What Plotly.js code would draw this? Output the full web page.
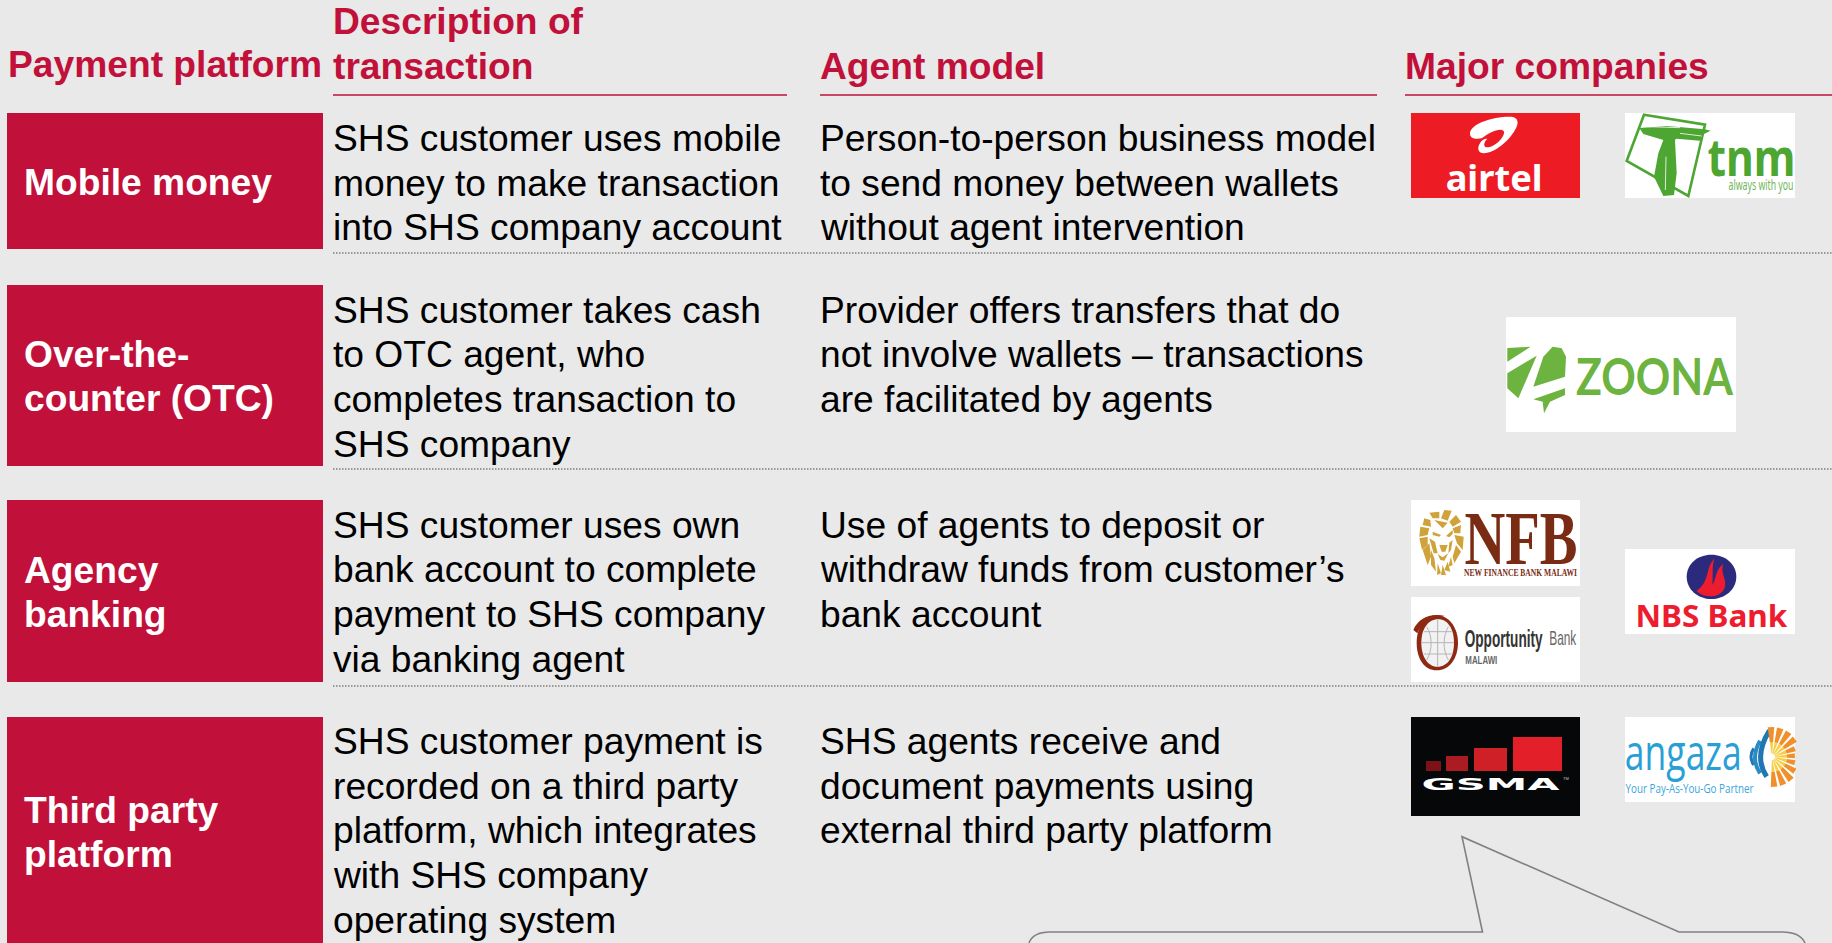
<!DOCTYPE html>
<html><head><meta charset="utf-8">
<script src="https://cdn.plot.ly/plotly-3.0.1.min.js"></script>
<style>html,body{margin:0;padding:0;background:#e9e9e9;overflow:hidden}</style>
</head><body><div id="chart" style="width:1832px;height:943px"></div>
<script>
// ---- content ----
const headers = ["Payment platform", "Description of", "transaction", "Agent model", "Major companies"];
const platforms = [["Mobile money"], ["Over-the-", "counter (OTC)"], ["Agency", "banking"], ["Third party", "platform"]];
const descriptions = [
  ["SHS customer uses mobile", "money to make transaction", "into SHS company account"],
  ["SHS customer takes cash", "to OTC agent, who", "completes transaction to", "SHS company"],
  ["SHS customer uses own", "bank account to complete", "payment to SHS company", "via banking agent"],
  ["SHS customer payment is", "recorded on a third party", "platform, which integrates", "with SHS company", "operating system"]
];
const agentModels = [
  ["Person-to-person business model", "to send money between wallets", "without agent intervention"],
  ["Provider offers transfers that do", "not involve wallets \u2013 transactions", "are facilitated by agents"],
  ["Use of agents to deposit or", "withdraw funds from customer\u2019s", "bank account"],
  ["SHS agents receive and", "document payments using", "external third party platform"]
];
// ---- layout ----
const RED = "#C1113A", BG = "#E9E9E9", BODY = "Liberation Sans, Arial, sans-serif", FS = 37.2;
const rowBoxes = [[113, 249], [285, 466], [500, 682], [717, 943]];
const rowFirstLine = [138, 309.5, 524.5, 741];
const labelFirstLine = [182, 354, 570, 810];
const LH = 44.7;
const shapes = [], annotations = [], fit = {};
const rect = (x0, y0, x1, y1, c) => shapes.push({type:"rect", xref:"x", yref:"y", x0, y0, x1, y1, fillcolor:c, line:{width:0}, layer:"below"});
const line = (x0, y0, x1, y1, c, w, dash) => shapes.push({type:"line", xref:"x", yref:"y", x0, y0, x1, y1, line:{color:c, width:w, dash:dash||"solid"}, layer:"below"});
const txt = (x, y, t, size, color, opt) => {
  opt = opt || {};
  if (opt.w) fit[t] = opt.w;
  annotations.push({xref:"x", yref:"y", x, y, text:t, showarrow:false, xanchor:opt.a||"left", yanchor:"middle", borderpad:0, borderwidth:0,
    font:{family:opt.f||BODY, size, color, weight:opt.b?700:400}});
};
// path in 3x crop coordinates -> page coordinates
const path = (ox, oy, d, fill, stroke, sw) => shapes.push({type:"path", xref:"x", yref:"y",
  path:d.replace(/(-?\d+\.?\d*) (-?\d+\.?\d*)/g, (m,a,b)=>`${ox+a/3} ${oy+b/3}`),
  fillcolor:fill||"rgba(0,0,0,0)", line:{color:stroke||"rgba(0,0,0,0)", width:sw||0}, layer:"below"});

// headers
txt(7.5, 64, headers[0], FS, RED, {b:1});
txt(333, 21, headers[1], FS, RED, {b:1});
txt(333, 66, headers[2], FS, RED, {b:1});
txt(820, 66, headers[3], FS, RED, {b:1});
txt(1405, 66, headers[4], FS, RED, {b:1});
line(333, 95, 787, 95, RED, 1.6); line(820, 95, 1377, 95, RED, 1.6); line(1405, 95, 1832, 95, RED, 1.6);
[253, 469, 686].forEach(y => line(333, y, 1832, y, "#7f7f7f", 1.5, "1.5px,1.5px"));
// rows
rowBoxes.forEach((b, i) => {
  rect(7, b[0], 323, b[1], RED);
  platforms[i].forEach((t, k) => txt(24, labelFirstLine[i] + k*44.4, t, FS, "#fff", {b:1}));
  descriptions[i].forEach((t, k) => txt(333, rowFirstLine[i] + k*LH, t, FS, "#000"));
  agentModels[i].forEach((t, k) => txt(820, rowFirstLine[i] + k*LH, t, FS, "#000"));
});
// ---- logos ----
const OA = 1380, OB = 90, OC = 490;
// airtel
rect(1411,113,1580,198,"#ED1C24");
path(OA,OB,"M 270 128 C 275 100 340 78 395 80 C 415 82 418 100 405 120 C 385 155 345 188 312 190 C 295 190 290 175 300 160 C 305 150 315 145 322 147 C 312 155 308 170 320 172 C 345 172 375 140 372 125 C 365 110 330 125 305 145 C 285 148 268 145 270 128 Z","#fff");
txt(1493.5,177,"airtel",36,"#fff",{a:"center",b:1,f:"Noto Sans",w:97});
// tnm
rect(1625,113,1795,198,"#fff");
const G1="#4DA532";
path(OA,OB,"M 792 74 L 975 104 L 925 318 L 740 213 Z",null,G1,2.6);
path(OA,OB,"M 778 114 L 860 108 L 975 118 L 992 122 L 972 132 L 960 152 L 890 146 L 880 152 L 850 150 L 790 132 Z",G1);
path(OA,OB,"M 850 150 L 885 150 L 890 250 L 882 315 L 850 318 L 822 260 L 835 190 Z",G1);
path(OA,OB,"M 800 110 L 900 113 M 900 130 L 965 138 M 858 200 L 856 300","", "#fff", 0.8);
txt(1751,155,"tnm",52,G1,{a:"center",b:1,f:"Noto Sans",w:88});
txt(1761,184,"always with you",14,"#6fb558",{a:"center",f:"Noto Sans",w:65});
// zoona
rect(1506,317,1736,432,"#fff");
const G2="#6CB33F";
path(OA,OB,"M 382 774 L 452 770 L 382 815 Z",G2);
path(OA,OB,"M 382 850 L 470 797 L 415 925 L 382 895 Z",G2);
path(OA,OB,"M 518 770 L 545 775 L 558 800 L 555 860 L 460 890 L 490 800 Z",G2);
path(OA,OB,"M 460 928 L 555 895 L 555 915 L 510 935 L 492 970 L 488 935 Z",G2);
txt(1655,375,"ZOONA",52,G2,{a:"center",b:1,f:"Lato",w:157});
// NFB
rect(1411,500,1580,586,"#fff");
const GOLD="#CFA23A", BR="#7A2B14";
["M 65 55 L 55 38 L 85 35 L 85 55 Z","M 90 55 L 100 30 L 122 32 L 110 62 Z","M 115 65 L 135 45 L 150 65 L 125 80 Z","M 125 85 L 150 75 L 148 100 L 130 100 Z",
 "M 130 105 L 158 110 L 155 150 L 138 130 Z","M 40 55 L 58 60 L 60 80 L 35 75 Z","M 28 80 L 55 85 L 50 105 L 25 110 Z","M 25 115 L 50 110 L 50 135 L 33 150 Z",
 "M 35 150 L 55 130 L 60 170 L 50 195 Z","M 60 150 L 70 175 L 75 215 L 60 195 Z","M 135 135 L 150 155 L 130 190 L 125 170 Z",
 "M 80 190 L 90 220 L 78 225 Z","M 95 195 L 105 225 L 90 225 Z","M 110 185 L 118 215 L 100 210 Z","M 120 170 L 125 195 L 112 200 Z",
 "M 65 95 L 90 105 L 85 110 L 65 105 Z","M 125 90 L 105 108 L 115 112 L 125 102 Z","M 85 135 L 110 135 L 103 155 L 92 155 Z","M 80 162 L 95 172 L 112 160 L 100 182 L 88 180 Z",
 "M 70 60 L 110 68 L 95 85 Z","M 55 115 L 72 125 L 80 160 L 68 160 Z","M 125 120 L 120 150 L 112 160 L 115 128 Z"
].forEach(d => path(1411,500,d,GOLD));
txt(1521,538,"NFB",77,BR,{a:"center",b:1,f:"Liberation Serif",w:113});
txt(1520,572,"NEW FINANCE BANK MALAWI",10,BR,{a:"center",b:1,f:"Liberation Serif",w:113});
// Opportunity
rect(1411,597,1580,682,"#fff");
path(OA,OC,"M 170 376 C 208 376 234 415 234 458 C 234 505 208 541 170 541 C 132 541 110 505 110 458 C 110 415 132 376 170 376 Z","#8E2A14");
path(OA,OC,"M 175 388 C 205 388 222 420 222 458 C 222 498 205 530 172 530 C 142 530 124 498 124 458 C 124 420 142 388 175 388 Z","#f2f2f2");
path(OA,OC,"M 100 420 C 115 385 150 368 195 378 C 155 380 125 395 112 430 Z","#8E2A14");
path(OA,OC,"M 124 458 L 222 458 M 173 390 L 173 528 M 140 410 C 158 440 158 480 140 510 M 205 410 C 188 440 188 480 205 510 M 132 425 L 215 425 M 132 492 L 215 492","","#b5b5b5",1);
txt(1504,638,"Opportunity",24,"#333",{a:"center",b:1,f:"Liberation Sans",w:78});
txt(1563,638,"Bank",20,"#666",{a:"center",f:"Liberation Sans",w:27});
txt(1481,660,"MALAWI",11,"#666",{a:"center",b:1,f:"Liberation Sans",w:32});
// NBS
rect(1625,549,1795,634,"#fff");
path(OA,OC,"M 994 194 C 1035 194 1069 222 1069 260 C 1069 298 1035 327 994 327 C 953 327 920 298 920 260 C 920 222 953 194 994 194 Z","#2B2A7C");
path(OA,OC,"M 950 302 C 975 285 980 260 985 240 C 990 220 1000 210 1003 205 C 995 235 1000 255 997 285 C 1010 265 1005 240 1030 222 C 1020 250 1040 265 1035 290 C 1028 315 1000 322 980 318 C 965 315 955 310 950 302 Z","#ED1C2E");
txt(1711,615.5,"NBS Bank",30,"#ED1C2E",{a:"center",b:1,f:"Noto Sans",w:152});
// GSMA
rect(1411,717,1580,816,"#050708");
rect(1426,761,1441,771,"#7D1216");
rect(1446,756,1468,771,"#AB1C22");
rect(1474,748,1507,771,"#CF2027");
rect(1513,737,1562,771,"#E3202A");
txt(1491,784,"GSMA",16,"#fff",{a:"center",b:1,f:"DejaVu Sans",w:138});
txt(1566,778,"TM",4,"#ccc",{a:"center"});
// angaza
rect(1625,717,1795,802,"#fff");
txt(1683,751,"angaza",50,"#2A9FD6",{a:"center",f:"Open Sans",w:117});
txt(1689,788,"Your Pay-As-You-Go Partner",12.5,"#3AA6DC",{a:"center",f:"Open Sans",w:128});
path(OA,OC,"M 1121 775 Q 1105 800 1121 825","", "#1F78B4",3);
path(OA,OC,"M 1140 752 Q 1110 805 1140 850","", "#2A8CC4",4);
path(OA,OC,"M 1168 722 Q 1120 800 1160 860","", "#1F78B4",5);
// sun rays: angle in degrees from the centre of the sun
const rayAngles = [-92,-74,-56,-38,-20,-3,14,32,50,68,86];
const sunX = 1772, sunY = 757;
rayAngles.forEach(a => {
  const t = a*Math.PI/180, c = Math.cos(t), spread = 0.11;
  const wedge = (r0, r1, col) => {
    const lim = r => Math.min(r, c > 0.05 ? 23/c : r);
    const pt = (r, dt) => `${sunX + lim(r)*Math.cos(t+dt)} ${sunY + lim(r)*Math.sin(t+dt)}`;
    shapes.push({type:"path", xref:"x", yref:"y", layer:"below", fillcolor:col, line:{width:0},
      path:`M ${pt(r0,-spread)} L ${pt(r1,-spread)} L ${pt(r1,spread)} L ${pt(r0,spread)} Z`});
  };
  wedge(3, 15, "#F7CE46"); wedge(15, 30, "#F0902C");
});
// callout (outline)
shapes.push({type:"path", xref:"x", yref:"y", fillcolor:"rgba(0,0,0,0)", line:{color:"#808080", width:1.6}, layer:"below",
  path:"M 1029 943 Q 1033 932 1050 932 L 1482.5 932 L 1462 836.7 L 1679 932 L 1782 932 Q 1800 932 1805 943"});

const layout = {width:1832, height:943, margin:{l:0,r:0,t:0,b:0}, paper_bgcolor:BG, plot_bgcolor:BG, showlegend:false, hovermode:false,
  xaxis:{range:[0,1832], visible:false, fixedrange:true}, yaxis:{range:[943,0], visible:false, fixedrange:true},
  shapes, annotations};
Plotly.newPlot("chart", [], layout, {staticPlot:true, displayModeBar:false}).then(gd => {
  gd.querySelectorAll(".annotation-text").forEach(t => {
    const w = fit[t.textContent];
    if (w) {
      const cx = parseFloat(t.getAttribute("x")) || 0, sx = w / t.getComputedTextLength();
      t.setAttribute("transform", `translate(${cx} 0) scale(${sx} 1) translate(${-cx} 0)`);
    }
  });
});
</script></body></html>
